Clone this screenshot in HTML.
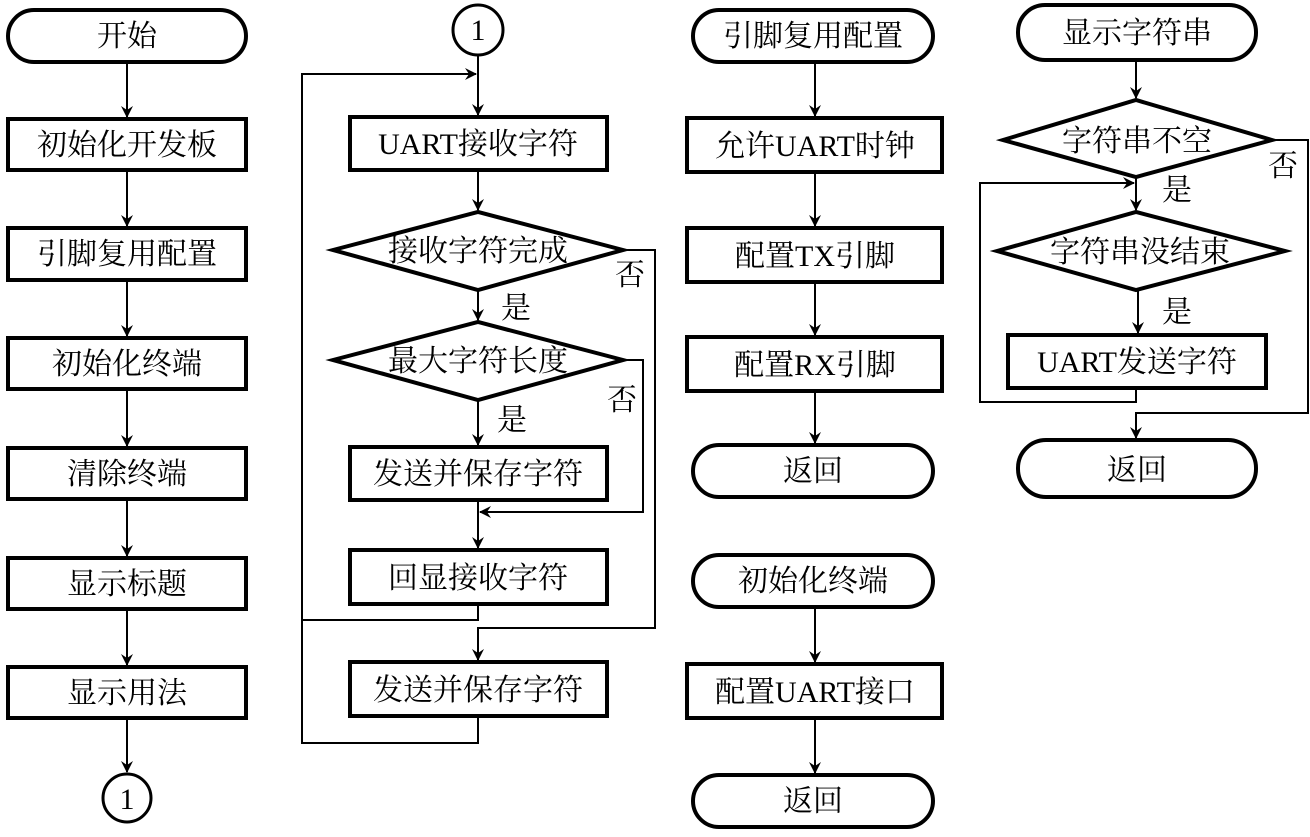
<!DOCTYPE html>
<html><head><meta charset="utf-8"><style>
html,body{margin:0;padding:0;background:#fff}
svg text{font-family:"Liberation Serif","Noto Serif CJK SC",serif;font-size:30px;fill:#000}
</style></head><body>
<svg width="1310" height="832" viewBox="0 0 1310 832" xmlns="http://www.w3.org/2000/svg">
<defs><marker id="a" markerWidth="12" markerHeight="12" refX="11" refY="6" orient="auto" markerUnits="userSpaceOnUse"><path d="M0,0 L12,6 L0,12 L4,6 Z" fill="#000"/></marker></defs>
<g fill="#fff" stroke="#000" stroke-width="4">
<!-- col1 -->
<rect x="8" y="10" width="238" height="52" rx="26"/>
<rect x="8" y="119" width="238" height="51"/>
<rect x="8" y="228" width="238" height="52"/>
<rect x="8" y="338" width="238" height="51"/>
<rect x="8" y="448" width="238" height="51"/>
<rect x="8" y="558" width="238" height="51"/>
<rect x="8" y="667" width="238" height="51"/>
<circle cx="127" cy="798" r="24" stroke-width="3"/>
<!-- col2 -->
<circle cx="478" cy="30" r="25" stroke-width="3"/>
<rect x="350" y="117" width="257" height="53"/>
<path d="M333,250 L478,212 L623,250 L478,290 Z"/>
<path d="M333,360 L478,322 L623,360 L478,400 Z"/>
<rect x="350" y="447" width="257" height="53"/>
<rect x="350" y="550" width="257" height="54"/>
<rect x="350" y="662" width="257" height="54"/>
<!-- col3 -->
<rect x="693" y="10" width="240" height="52" rx="26"/>
<rect x="687" y="118" width="255" height="54"/>
<rect x="687" y="228" width="255" height="54"/>
<rect x="687" y="337" width="255" height="54"/>
<rect x="693" y="445" width="240" height="52" rx="26"/>
<rect x="693" y="555" width="240" height="52" rx="26"/>
<rect x="687" y="664" width="255" height="54"/>
<rect x="693" y="775" width="240" height="52" rx="26"/>
<!-- col4 -->
<rect x="1018" y="5" width="238" height="55" rx="27"/>
<path d="M1003,140 L1136,100 L1272,140 L1136,177 Z"/>
<path d="M997,251 L1136,212 L1285,251 L1136,290 Z"/>
<rect x="1008" y="335" width="258" height="53"/>
<rect x="1018" y="440" width="238" height="57" rx="28"/>
</g>
<g fill="none" stroke="#000" stroke-width="2">
<line x1="127" y1="62" x2="127" y2="117" marker-end="url(#a)"/>
<line x1="127" y1="170" x2="127" y2="226" marker-end="url(#a)"/>
<line x1="127" y1="280" x2="127" y2="336" marker-end="url(#a)"/>
<line x1="127" y1="389" x2="127" y2="446" marker-end="url(#a)"/>
<line x1="127" y1="499" x2="127" y2="556" marker-end="url(#a)"/>
<line x1="127" y1="609" x2="127" y2="665" marker-end="url(#a)"/>
<line x1="127" y1="718" x2="127" y2="772" marker-end="url(#a)"/>
<!-- col2 -->
<line x1="478" y1="55" x2="478" y2="115" marker-end="url(#a)"/>
<line x1="478" y1="170" x2="478" y2="210" marker-end="url(#a)"/>
<line x1="478" y1="290" x2="478" y2="320" marker-end="url(#a)"/>
<line x1="478" y1="400" x2="478" y2="445" marker-end="url(#a)"/>
<line x1="478" y1="500" x2="478" y2="548" marker-end="url(#a)"/>
<polyline points="623,250 655,250 655,628 478,628 478,660" marker-end="url(#a)"/>
<polyline points="623,360 643,360 643,512 480,512" marker-end="url(#a)"/>
<polyline points="478,604 478,620 302,620"/>
<polyline points="478,716 478,743 302,743 302,74 476,74" marker-end="url(#a)"/>
<!-- col3 -->
<line x1="815" y1="62" x2="815" y2="116" marker-end="url(#a)"/>
<line x1="815" y1="172" x2="815" y2="226" marker-end="url(#a)"/>
<line x1="815" y1="282" x2="815" y2="335" marker-end="url(#a)"/>
<line x1="815" y1="391" x2="815" y2="443" marker-end="url(#a)"/>
<line x1="815" y1="607" x2="815" y2="662" marker-end="url(#a)"/>
<line x1="815" y1="718" x2="815" y2="773" marker-end="url(#a)"/>
<!-- col4 -->
<line x1="1136" y1="60" x2="1136" y2="98" marker-end="url(#a)"/>
<line x1="1136" y1="177" x2="1136" y2="210" marker-end="url(#a)"/>
<line x1="1138" y1="290" x2="1138" y2="333" marker-end="url(#a)"/>
<polyline points="1136,388 1136,402 980,402 980,183 1134,183" marker-end="url(#a)"/>
<polyline points="1272,140 1308,140 1308,413 1136,413 1136,438" marker-end="url(#a)"/>
</g>
<g text-anchor="middle">
<text x="127" y="46">开始</text>
<text x="127" y="155">初始化开发板</text>
<text x="127" y="264">引脚复用配置</text>
<text x="127" y="374">初始化终端</text>
<text x="127" y="484">清除终端</text>
<text x="127" y="594">显示标题</text>
<text x="127" y="703">显示用法</text>
<text x="127" y="809" font-size="26">1</text>
<text x="478" y="40" font-size="26">1</text>
<text x="478" y="154">UART接收字符</text>
<text x="478" y="261">接收字符完成</text>
<text x="478" y="371">最大字符长度</text>
<text x="478" y="484">发送并保存字符</text>
<text x="478" y="588">回显接收字符</text>
<text x="478" y="700">发送并保存字符</text>
<text x="813" y="46">引脚复用配置</text>
<text x="815" y="156">允许UART时钟</text>
<text x="815" y="266">配置TX引脚</text>
<text x="815" y="375">配置RX引脚</text>
<text x="813" y="481">返回</text>
<text x="813" y="591">初始化终端</text>
<text x="815" y="702">配置UART接口</text>
<text x="813" y="811">返回</text>
<text x="1137" y="43">显示字符串</text>
<text x="1137" y="151">字符串不空</text>
<text x="1140" y="262">字符串没结束</text>
<text x="1137" y="372">UART发送字符</text>
<text x="1137" y="480">返回</text>
<text x="630" y="285" font-size="28">否</text>
<text x="516" y="318" font-size="28">是</text>
<text x="622" y="410" font-size="28">否</text>
<text x="512" y="430" font-size="28">是</text>
<text x="1283" y="176" font-size="28">否</text>
<text x="1177" y="200" font-size="28">是</text>
<text x="1177" y="322" font-size="28">是</text>
</g>
</svg>
</body></html>
